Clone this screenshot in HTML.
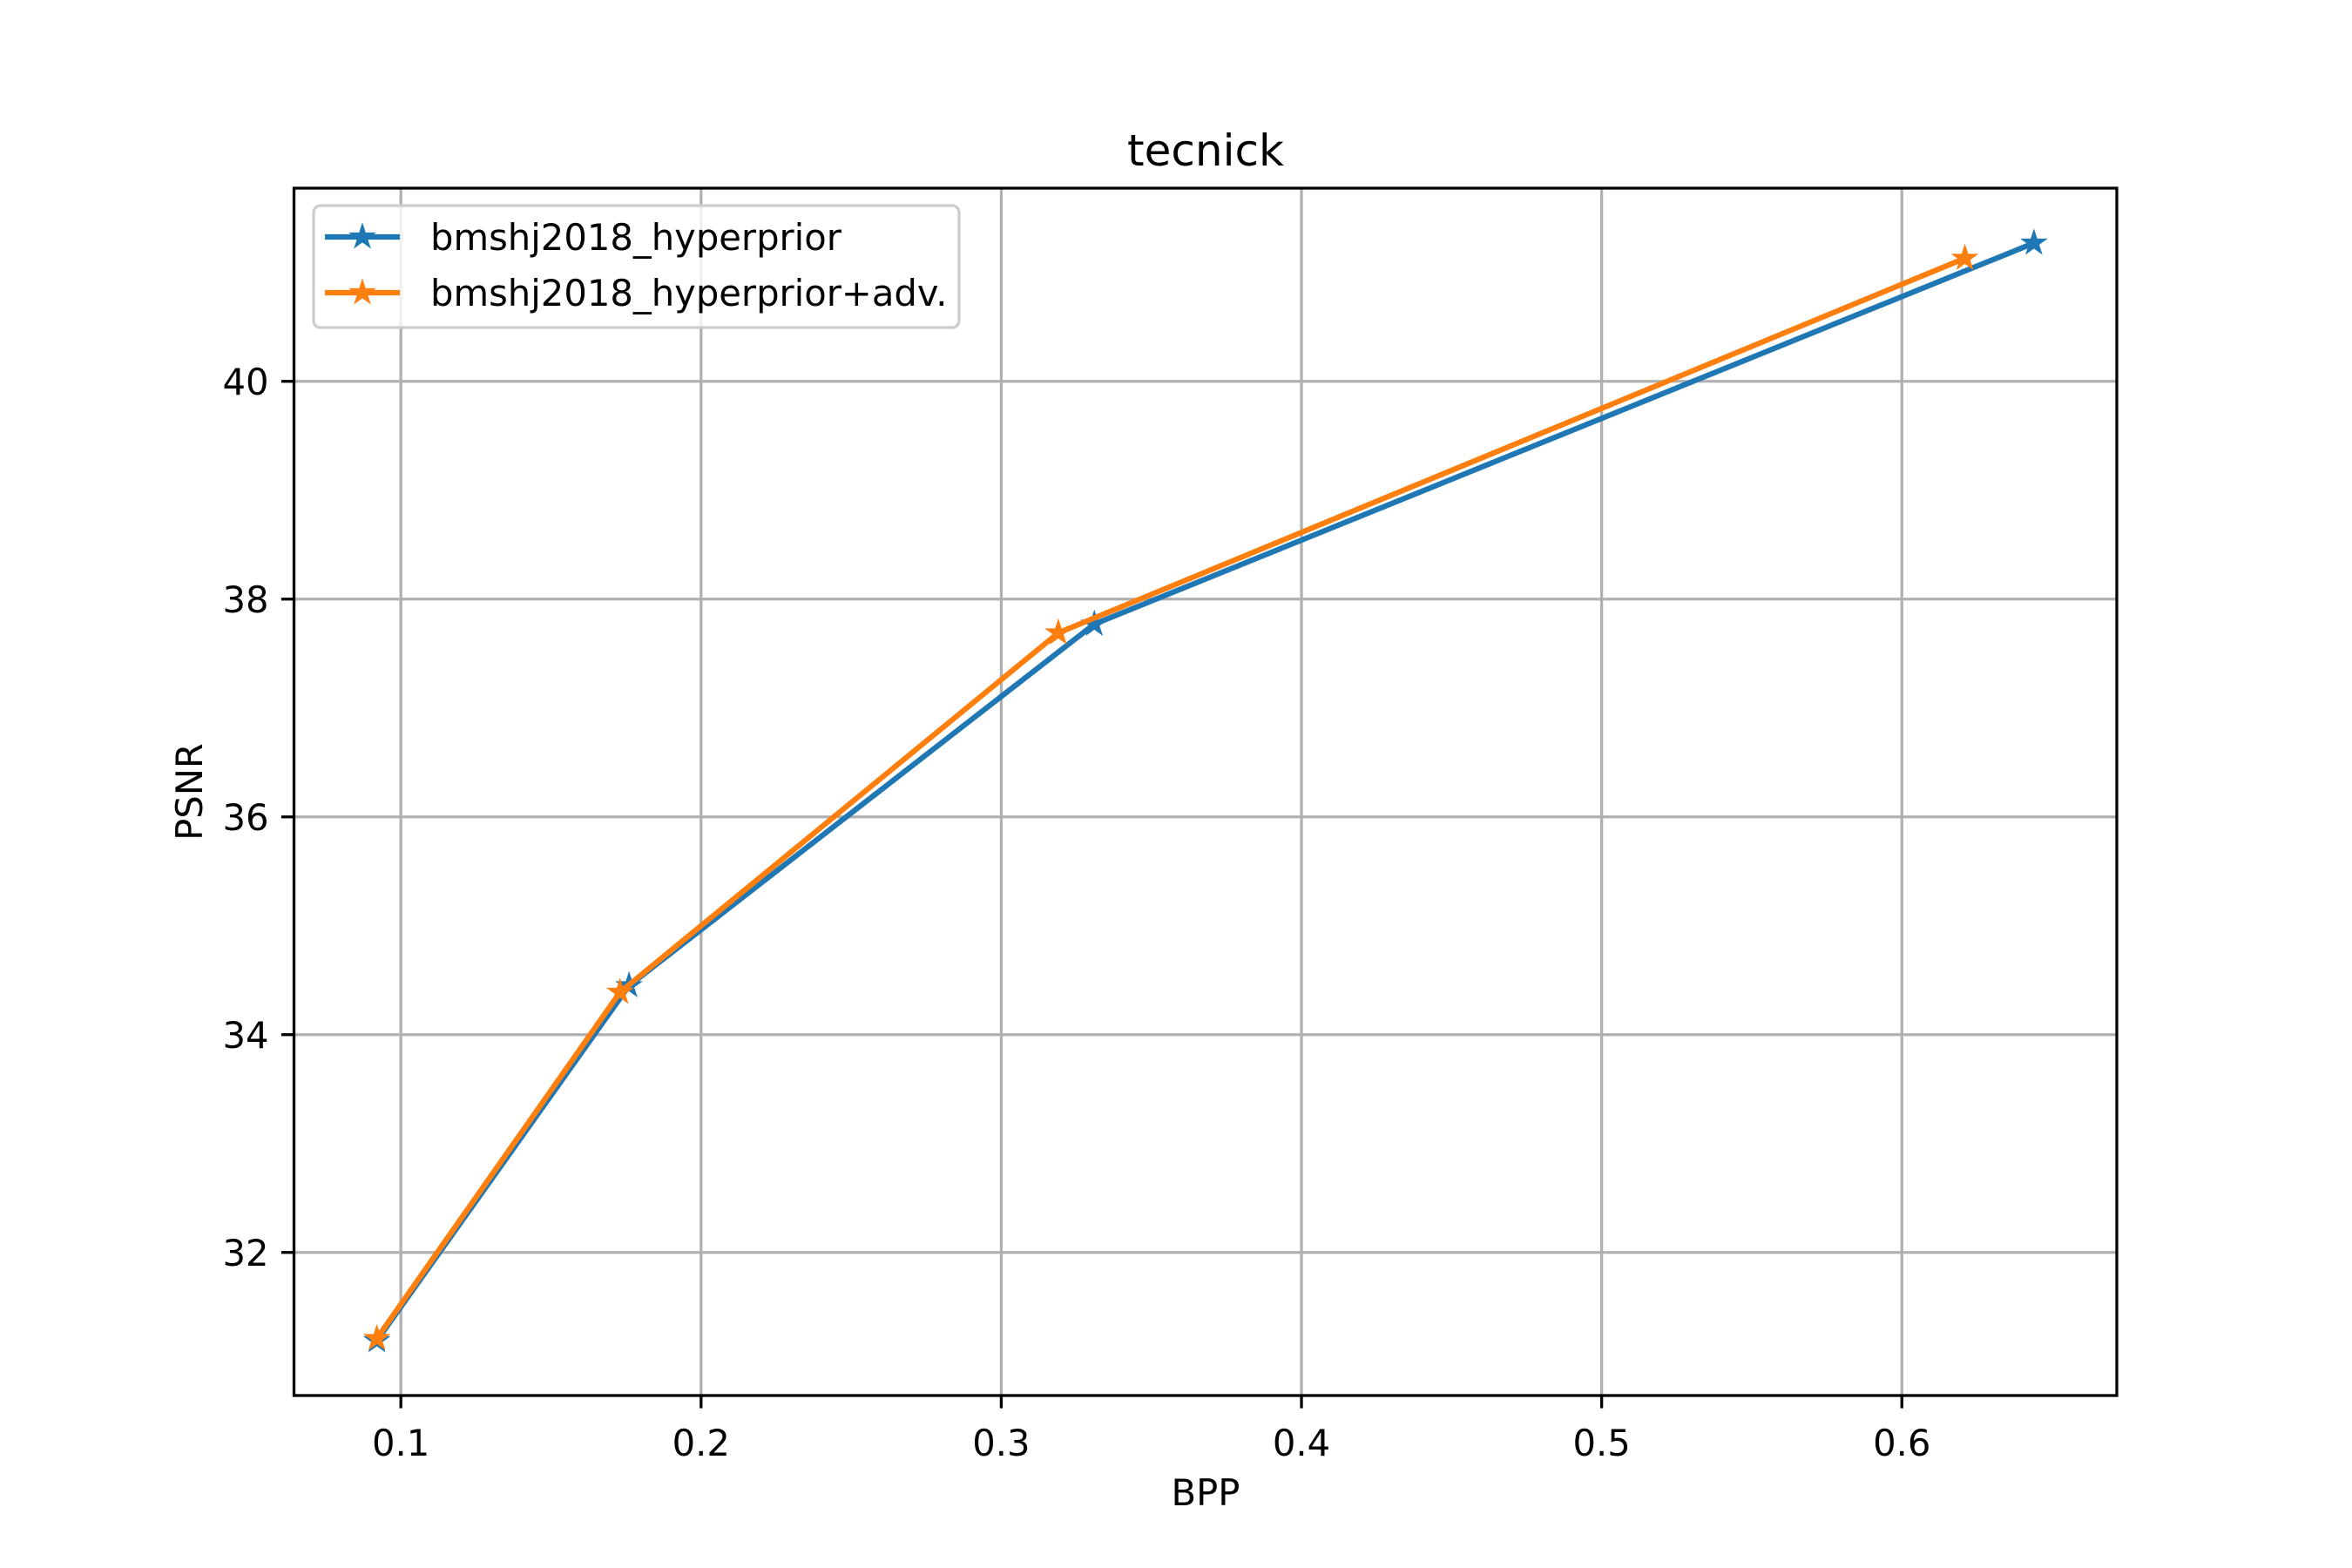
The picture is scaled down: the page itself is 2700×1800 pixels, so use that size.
<!DOCTYPE html>
<html><head><meta charset="utf-8"><style>
html,body{margin:0;padding:0;background:#fff;}
svg{display:block;font-family:"DejaVu Sans","Liberation Sans",sans-serif;}
</style></head><body>
<svg id="chart" width="2700" height="1800" viewBox="0 0 2700 1800"></svg>
<script>
const categories = ["q1","q2","q3","q4"];
const seriesNames = ["bmshj2018_hyperprior","bmshj2018_hyperprior+adv."];
const bppBase = [0.092,0.176,0.331,0.644];
const psnrBase = [31.19,34.45,37.77,41.27];
const bppAdv = [0.092,0.173,0.319,0.621];
const psnrAdv = [31.21,34.39,37.69,41.13];
const xTicks = [0.1,0.2,0.3,0.4,0.5,0.6];
const xTickLabels = ["0.1","0.2","0.3","0.4","0.5","0.6"];
const yTicks = [32,34,36,38,40];
const yTickLabels = ["32","34","36","38","40"];
const colors = ["#1f77b4","#ff7f0e"];

const NS="http://www.w3.org/2000/svg";
const svg=document.getElementById('chart');
const L=337.5,R=2430,T=216,B=1602;
const allX=bppBase.concat(bppAdv), allY=psnrBase.concat(psnrAdv);
let xmin=Math.min(...allX),xmax=Math.max(...allX),ymin=Math.min(...allY),ymax=Math.max(...allY);
const mx=(xmax-xmin)*0.05,my=(ymax-ymin)*0.05;
xmin-=mx;xmax+=mx;ymin-=my;ymax+=my;
const sx=v=>L+(v-xmin)/(xmax-xmin)*(R-L);
const sy=v=>B-(v-ymin)/(ymax-ymin)*(B-T);
function mk(tag,attrs,parent){const e=document.createElementNS(NS,tag);for(const k in attrs)e.setAttribute(k,attrs[k]);(parent||svg).appendChild(e);return e;}
function star(cx,cy,r){let p=[];for(let i=0;i<10;i++){const a=-Math.PI/2+i*Math.PI/5;const rr=i%2?r*0.381966:r;p.push((cx+rr*Math.cos(a)).toFixed(2)+","+(cy+rr*Math.sin(a)).toFixed(2));}return p.join(" ");}

// grid
xTicks.forEach((t,i)=>{
  const g=mk('line',{x1:sx(t),x2:sx(t),y1:T,y2:B,stroke:'#b0b0b0','stroke-width':3.3});
  
  
  const tk=mk('line',{x1:sx(t),x2:sx(t),y1:B,y2:B+14.6,stroke:'#000','stroke-width':3.3});
  
  
  const tl=mk('text',{x:sx(t),y:1671,'font-size':41.7,'text-anchor':'middle',fill:'#000'});
  tl.textContent=xTickLabels[i];
  
  
});
yTicks.forEach((t,i)=>{
  const g=mk('line',{x1:L,x2:R,y1:sy(t),y2:sy(t),stroke:'#b0b0b0','stroke-width':3.3});
  
  
  const tk=mk('line',{x1:L-14.6,x2:L,y1:sy(t),y2:sy(t),stroke:'#000','stroke-width':3.3});
  
  
  const tl=mk('text',{x:L-29,y:sy(t)+15,'font-size':41.7,'text-anchor':'end',fill:'#000'});
  tl.textContent=yTickLabels[i];
  
  
});

// series
[[bppBase,psnrBase],[bppAdv,psnrAdv]].forEach((s,si)=>{
  const pts=s[0].map((x,i)=>sx(x)+","+sy(s[1][i])).join(" ");
  const pl=mk('polyline',{points:pts,fill:'none',stroke:colors[si],'stroke-width':6.25,'stroke-linejoin':'round','stroke-linecap':'square'});
  
  
  s[0].forEach((x,i)=>{
    const m=mk('polygon',{points:star(sx(x),sy(s[1][i]),13.5),fill:colors[si],stroke:colors[si],'stroke-width':2});
    
    
  });
});

// axes frame
const fr=mk('rect',{x:L,y:T,width:R-L,height:B-T,fill:'none',stroke:'#000','stroke-width':3.3});



// legend
const lg=mk('g',{});


mk('rect',{x:360,y:236,width:741,height:140,rx:8,fill:'#fff','fill-opacity':0.8,stroke:'#cccccc','stroke-width':3.3},lg);
seriesNames.forEach((n,i)=>{
  const y=272+i*64;
  const e=mk('g',{},lg);
  
  
  mk('line',{x1:373,x2:459,y1:y,y2:y,stroke:colors[i],'stroke-width':6.25},e);
  mk('polygon',{points:star(416,y,13.5),fill:colors[i],stroke:colors[i],'stroke-width':2},e);
  const t=mk('text',{x:494,y:y+15,'font-size':41.7,fill:'#000'},e);
  t.textContent=n;
});
</script>
<div style="display:none"></div>
<svg width="0" height="0" style="position:absolute"></svg>
<script>
const s2=document.getElementById('chart');
const NS2="http://www.w3.org/2000/svg";
function tx(x,y,txt,size,name,rot){const e=document.createElementNS(NS2,'text');e.setAttribute('x',x);e.setAttribute('y',y);e.setAttribute('font-size',size);e.setAttribute('text-anchor','middle');if(rot)e.setAttribute('transform','rotate(-90 '+x+' '+y+')');e.textContent=txt;


s2.appendChild(e);}
tx(1384,190,'tecnick',50,'chart-title');
tx(1384,1728,'BPP',41.7,'x-axis-title');
tx(232,909,'PSNR',41.7,'y-axis-title',true);
</script>
</body></html>
